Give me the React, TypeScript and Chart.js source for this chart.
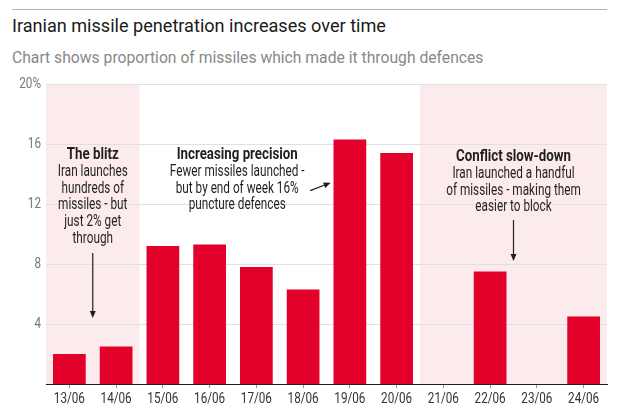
import { useEffect, useRef } from "react";
import { Chart, registerables } from "chart.js";

Chart.register(...registerables);

const categories = [
  "13/06",
  "14/06",
  "15/06",
  "16/06",
  "17/06",
  "18/06",
  "19/06",
  "20/06",
  "21/06",
  "22/06",
  "23/06",
  "24/06",
];

// % of missiles that got through, null = no bar drawn
const penetration = [2.0, 2.5, 9.2, 9.3, 7.8, 6.3, 16.3, 15.4, null, 7.5, null, 4.5];

const yTicks = [4, 8, 12, 16, 20];
const yTickLabels = ["4", "8", "12", "16", "20%"];

// shaded phases, by category index
const phaseStart = [0, 8];
const phaseEnd = [1, 11];

// annotation blocks: anchor in data space (category index, value)
const noteHeads = ["The blitz", "Increasing precision", "Conflict slow-down"];
const noteLines = [
  ["Iran launches", "hundreds of", "missiles - but", "just 2% get", "through"],
  ["Fewer missiles launched -", "but by end of week 16%", "puncture defences"],
  ["Iran launched a handful", "of missiles - making them", "easier to block"],
];
const noteX = [0.5, 3.59, 9.5];
const noteY = [15.27, 15.27, 15.13];

// arrows: [fromIndex, fromValue, toIndex, toValue]
const arrows = [
  [0.5, 8.73, 0.5, 4.4],
  [5.15, 12.89, 5.59, 13.42],
  [9.5, 10.93, 9.5, 8.2],
];

// no narrow face installed, so squeeze Roboto horizontally
const FONT = "Roboto, sans-serif";
const SQUEEZE = 0.78;
const NOTE_SQUEEZE = 0.735;
const HEAD_SQUEEZE = 0.83;
const RED = "#e3002b";
const INK = "#1f1f1f";

function squeezedText(ctx: CanvasRenderingContext2D, text: string, x: number, y: number, sx: number) {
  ctx.save();
  ctx.translate(x, y);
  ctx.scale(sx, 1);
  ctx.fillText(text, 0, 0);
  ctx.restore();
}

const phaseShading = {
  id: "phaseShading",
  beforeDraw(chart: Chart) {
    const { ctx } = chart;
    const x = chart.scales.x;
    const y = chart.scales.y;
    const half = (x.getPixelForValue(1) - x.getPixelForValue(0)) / 2;
    const top = y.getPixelForValue(20);
    const bottom = y.getPixelForValue(0);
    ctx.save();
    ctx.fillStyle = "#fcebed";
    phaseStart.forEach((s, i) => {
      const x1 = x.getPixelForValue(s) - half;
      const x2 = x.getPixelForValue(phaseEnd[i]) + half;
      ctx.fillRect(x1, top, x2 - x1, bottom - top);
    });
    ctx.restore();
  },
};

const axisLabels = {
  id: "axisLabels",
  afterDraw(chart: Chart) {
    const { ctx } = chart;
    const x = chart.scales.x;
    const y = chart.scales.y;
    ctx.save();
    ctx.textBaseline = "middle";
    ctx.font = `15px ${FONT}`;
    ctx.fillStyle = "#333";
    ctx.textAlign = "center";
    categories.forEach((c, i) => {
      squeezedText(ctx, c, x.getPixelForTick(i), x.top + 15.5, SQUEEZE);
    });
    ctx.fillStyle = "#777";
    ctx.textAlign = "right";
    yTicks.forEach((v, i) => {
      squeezedText(ctx, yTickLabels[i], y.right - 5, y.getPixelForValue(v) + 0.5, SQUEEZE);
    });
    ctx.restore();
  },
};

const notes = {
  id: "notes",
  afterDatasetsDraw(chart: Chart) {
    const { ctx } = chart;
    const x = chart.scales.x;
    const y = chart.scales.y;
    ctx.save();
    ctx.fillStyle = INK;
    ctx.textAlign = "center";
    ctx.textBaseline = "middle";
    noteHeads.forEach((head, i) => {
      const cx = x.getPixelForValue(noteX[i]);
      const cy = y.getPixelForValue(noteY[i]);
      ctx.font = `bold 16px ${FONT}`;
      squeezedText(ctx, head, cx, cy, HEAD_SQUEEZE);
      ctx.font = `16px ${FONT}`;
      noteLines[i].forEach((line, j) => {
        squeezedText(ctx, line, cx, cy + 17 + j * 16.7, NOTE_SQUEEZE);
      });
    });

    ctx.strokeStyle = INK;
    ctx.lineWidth = 1.2;
    arrows.forEach(([fx, fv, tx, tv]) => {
      const x1 = x.getPixelForValue(fx);
      const y1 = y.getPixelForValue(fv);
      const x2 = x.getPixelForValue(tx);
      const y2 = y.getPixelForValue(tv);
      const a = Math.atan2(y2 - y1, x2 - x1);
      const len = 7;
      const w = 3;
      ctx.beginPath();
      ctx.moveTo(x1, y1);
      ctx.lineTo(x2 - Math.cos(a) * len * 0.8, y2 - Math.sin(a) * len * 0.8);
      ctx.stroke();
      ctx.beginPath();
      ctx.moveTo(x2, y2);
      ctx.lineTo(x2 - Math.cos(a) * len - Math.sin(a) * w, y2 - Math.sin(a) * len + Math.cos(a) * w);
      ctx.lineTo(x2 - Math.cos(a) * len + Math.sin(a) * w, y2 - Math.sin(a) * len - Math.cos(a) * w);
      ctx.closePath();
      ctx.fill();
    });
    ctx.restore();
  },
};

export default function App() {
  const canvasRef = useRef<HTMLCanvasElement>(null);

  useEffect(() => {
    document.body.style.margin = "0";
    if (!canvasRef.current) return;

    const chart = new Chart(canvasRef.current, {
      type: "bar",
      data: {
        labels: categories,
        datasets: [
          {
            data: penetration,
            backgroundColor: RED,
            barPercentage: 0.7,
            categoryPercentage: 1,
          },
        ],
      },
      options: {
        responsive: false,
        animation: false,
        layout: { padding: { top: 84, right: 24, bottom: 0, left: 0 } },
        plugins: {
          legend: { display: false },
          tooltip: { enabled: false },
        },
        scales: {
          x: {
            grid: {
              offset: false,
              drawOnChartArea: false,
              drawTicks: true,
              tickLength: 4,
              color: "#999",
            },
            border: { color: INK, width: 1 },
            ticks: { display: false, autoSkip: false, maxRotation: 0 },
            afterFit: (s: any) => {
              s.height = 33;
            },
          },
          y: {
            min: 0,
            max: 20,
            afterBuildTicks: (s: any) => {
              s.ticks = yTicks.map((v) => ({ value: v }));
            },
            ticks: { display: false },
            grid: { color: "#e0e0e0", drawTicks: false },
            border: { display: false },
            afterFit: (s: any) => {
              s.width = 46;
            },
          },
        },
      },
      plugins: [phaseShading, notes, axisLabels],
    });

    return () => {
      chart.destroy();
    };
  }, []);

  return (
    <div style={{ position: "relative", width: 631, height: 417, background: "#fff" }}>
      <div
        style={{
          position: "absolute",
          left: 12,
          top: 9,
          width: 595,
          height: 1,
          background: "#b3b3b3",
        }}
      />
      <div
        style={{
          position: "absolute",
          left: 12,
          top: 16.5,
          font: "18.1px/1 Roboto, sans-serif",
          color: "#1a1a1a",
          whiteSpace: "nowrap",
        }}
      >
        Iranian missile penetration increases over time
      </div>
      <div
        style={{
          position: "absolute",
          left: 12,
          top: 50,
          font: "15.7px/1 Roboto, sans-serif",
          color: "#888",
          whiteSpace: "nowrap",
        }}
      >
        Chart shows proportion of missiles which made it through defences
      </div>
      <canvas
        ref={canvasRef}
        width={631}
        height={417}
        style={{ position: "absolute", left: 0, top: 0 }}
      />
    </div>
  );
}
